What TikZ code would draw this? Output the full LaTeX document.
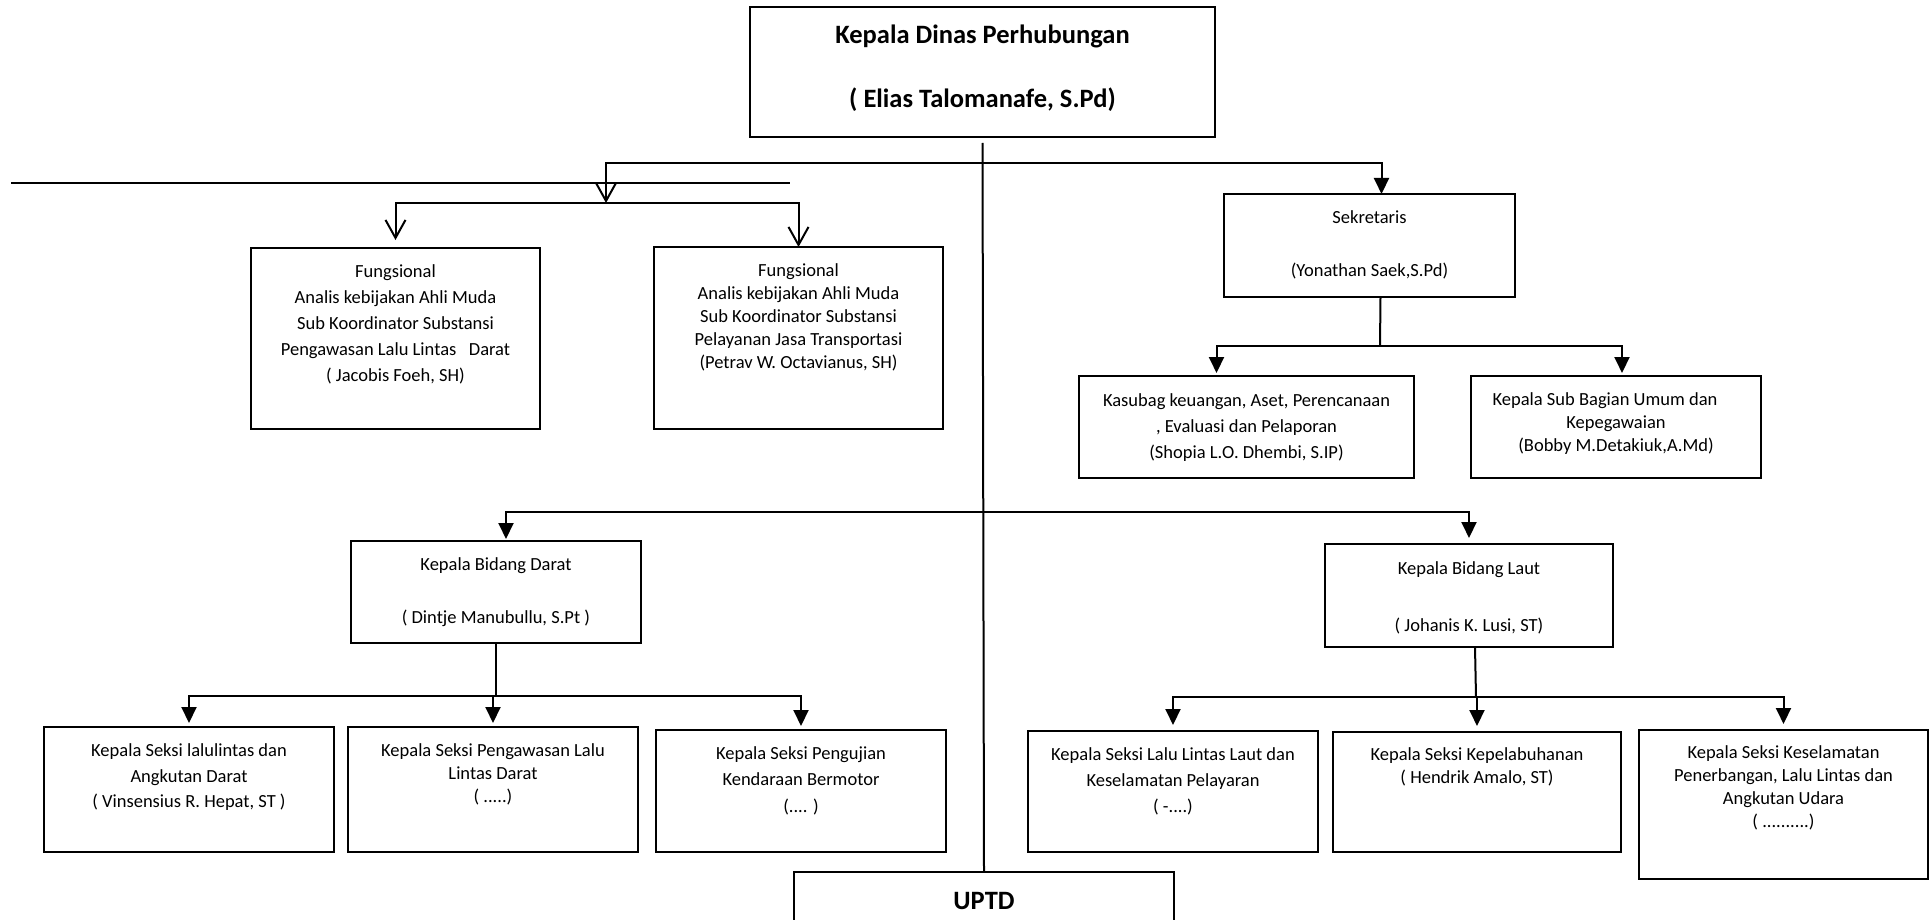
\documentclass[tikz,border=0pt]{standalone}
\usepackage{fontspec}
\setmainfont{Carlito}
\usetikzlibrary{positioning, arrows.meta}

\begin{document}
\begin{tikzpicture}[x=1pt, y=-1pt,
  box/.style={draw, line width=2pt, inner sep=0pt, outer sep=0pt, anchor=north west},
  txt/.style={align=center, anchor=north, inner sep=0pt, font=\fontsize{18.5}{23}\selectfont},
  ttl/.style={txt, font=\fontsize{26.5}{32}\selectfont\bfseries},
  link/.style={line width=2pt},
  tri/.style={link, -{Triangle[length=16pt, width=15pt]}},
  barb/.style={link, -{Straight Barb[length=18pt, width=20pt]}}]

\useasboundingbox (0, 0) rectangle (1930, 920);
\clip (0, 0) rectangle (1930, 920);

% boxes
\node[box, minimum width=465pt, minimum height=130pt] (kadis) at (750, 7) {};
\node[box, minimum width=289pt, minimum height=181pt] (fung1) at (251, 248) {};
\node[box, minimum width=289pt, minimum height=182pt] (fung2) at (654, 247) {};
\node[box, minimum width=291pt, minimum height=103pt] (sek) at (1224, 194) {};
\node[box, minimum width=335pt, minimum height=102pt] (kas) at (1079, 376) {};
\node[box, minimum width=290pt, minimum height=102pt] (ksb) at (1471, 376) {};
\node[box, minimum width=290pt, minimum height=102pt] (darat) at (351, 541) {};
\node[box, minimum width=288pt, minimum height=103pt] (laut) at (1325, 544) {};
\node[box, minimum width=290pt, minimum height=125pt] (b1) at (44, 727) {};
\node[box, minimum width=290pt, minimum height=125pt] (b2) at (348, 727) {};
\node[box, minimum width=290pt, minimum height=122pt] (b3) at (656, 730) {};
\node[box, minimum width=290pt, minimum height=121pt] (c1) at (1028, 731) {};
\node[box, minimum width=288pt, minimum height=120pt] (c2) at (1333, 732) {};
\node[box, minimum width=289pt, minimum height=149pt] (c3) at (1639, 730) {};
\node[box, minimum width=380pt, minimum height=80pt] (uptd) at (794, 872) {};

% texts
\node[ttl, below=18pt of kadis.north] (kadis-t) {Kepala Dinas Perhubungan\\[32pt]( Elias Talomanafe, S.Pd)};
\node[txt, below=16pt of fung1.north] (fung1-t) {Fungsional\\[3pt]Analis kebijakan Ahli Muda\\[3pt]Sub Koordinator Substansi\\[3pt]Pengawasan Lalu Lintas \ \ Darat\\[3pt]( Jacobis Foeh, SH)};
\node[txt, below=16pt of fung2.north] (fung2-t) {Fungsional\\Analis kebijakan Ahli Muda\\Sub Koordinator Substansi\\Pelayanan Jasa Transportasi\\(Petrav W. Octavianus, SH)};
\node[txt, below=16pt of sek.north] (sek-t) {Sekretaris\\[30pt](Yonathan Saek,S.Pd)};
\node[txt, below=17pt of kas.north] (kas-t) {Kasubag keuangan, Aset, Perencanaan\\[3pt], Evaluasi dan Pelaporan\\[3pt](Shopia L.O. Dhembi, S.IP)};
\node[txt, below=16pt of ksb.north] (ksb-t) {Kepala Sub Bagian Umum dan\hspace*{22pt}\\Kepegawaian\\(Bobby M.Detakiuk,A.Md)};
\node[txt, below=16pt of darat.north] (darat-t) {Kepala Bidang Darat\\[30pt]( Dintje Manubullu, S.Pt )};
\node[txt, below=17pt of laut.north] (laut-t) {Kepala Bidang Laut\\[34pt]( Johanis K. Lusi, ST)};
\node[txt, below=16pt of b1.north] (b1-t) {Kepala Seksi lalulintas dan\\[3pt]Angkutan Darat\\[2pt]( Vinsensius R. Hepat, ST )};
\node[txt, below=16pt of b2.north] (b2-t) {Kepala Seksi Pengawasan Lalu\\Lintas Darat\\( .....)};
\node[txt, below=16pt of b3.north] (b3-t) {Kepala Seksi Pengujian\\[3pt]Kendaraan Bermotor\\[4pt](.... )};
\node[txt, below=16pt of c1.north] (c1-t) {Kepala Seksi Lalu Lintas Laut dan\\[3pt]Keselamatan Pelayaran\\[3pt]( -....)};
\node[txt, below=15pt of c2.north] (c2-t) {Kepala Seksi Kepelabuhanan\\( Hendrik Amalo, ST)};
\node[txt, below=15pt of c3.north] (c3-t) {Kepala Seksi Keselamatan\\Penerbangan, Lalu Lintas dan\\Angkutan Udara\\( ..........)};
\node[ttl, below=20pt of uptd.north] (uptd-t) {UPTD};

% junctions
\coordinate (top-j) at (983, 163);
\coordinate (fung-j) at (606, 203);
\coordinate (sek-j) at (1380, 346);
\coordinate (bid-j) at (983, 512);
\coordinate (darat-j) at (495, 696);
\coordinate (laut-j) at (1476, 697);

% lines
\draw[link, shorten <=6pt] (kadis.south) -- (uptd.north);
\draw[link] (11, 183) -- (790, 183);
\draw[tri] (top-j) -| ([xshift=12pt]sek.north);
\draw[barb] (top-j) -| (fung-j);
\draw[barb, shorten >=8pt] (fung-j) -| (fung1.north);
\draw[barb] (fung-j) -| (fung2.north);

\draw[link] ([xshift=11pt]sek.south) -- (sek-j);
\draw[tri, shorten >=3pt] (sek-j) -| ([xshift=-30pt]kas.north);
\draw[tri, shorten >=3pt] (sek-j) -| ([xshift=6pt]ksb.north);

\draw[tri, shorten >=2pt] (bid-j) -| ([xshift=10pt]darat.north);
\draw[tri, shorten >=6pt] (bid-j) -| (laut.north);

\draw[link] (darat.south) -- (darat.south |- darat-j);
\foreach \n in {b1, b2, b3}
  \draw[tri, shorten >=4pt] (darat.south |- darat-j) -| (\n.north);

\draw[link] ([xshift=6pt]laut.south) -- (laut-j);
\foreach \n in {c1, c2, c3}
  \draw[tri, shorten >=6pt] (laut-j) -| (\n.north);
\end{tikzpicture}
\end{document}
